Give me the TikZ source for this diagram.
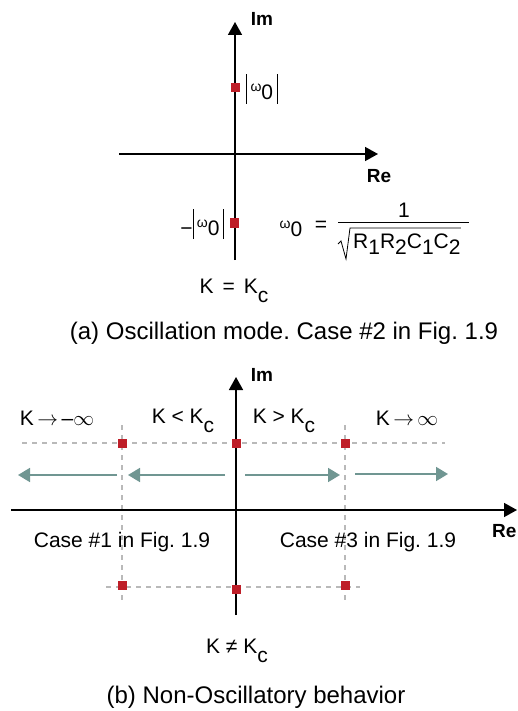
\documentclass[tikz,border=0pt]{standalone}
\usepackage{fontspec}
\setmainfont{Liberation Sans}
\usetikzlibrary{arrows.meta, positioning}
\frenchspacing
\definecolor{polered}{RGB}{190,30,40}
\definecolor{locusteal}{RGB}{112,150,146}
\definecolor{gridgray}{RGB}{185,185,185}
\tikzset{
  axisline/.style={
    -{Triangle[length=13pt,width=14pt]},
    draw=black, line width=1.6pt
  },
  polebox/.style={
    fill=polered, minimum size=9pt, inner sep=0pt
  },
  gridline/.style={
    draw=gridgray, dash pattern=on 5pt off 5pt, line width=1.1pt
  },
  locusarrow/.style={
    -{Triangle[length=12pt,width=14pt]},
    draw=locusteal, line width=1.8pt
  },
  axislabel/.style={
    font=\bfseries\fontsize{19}{22}\selectfont, inner sep=0pt
  },
  plainlabel/.style={
    font=\fontsize{21}{25}\selectfont, inner sep=0pt
  },
  captionlabel/.style={
    font=\fontsize{24}{28}\selectfont, inner sep=0pt
  },
}
\newcommand{\lowsub}[1]{\raisebox{-9pt}{#1}}
\newcommand{\digsub}[1]{\raisebox{-6pt}{#1}}
\newcommand{\omz}{\raisebox{8pt}{\fontsize{14}{14}\selectfont ω}0}
\newcommand{\absbar}{\rule[-4pt]{0.8pt}{30pt}}
\newcommand{\tends}{\,$\rightarrow$\,}

\begin{document}
\begin{tikzpicture}[x=1pt, y=-1pt]
  \useasboundingbox (0,0) rectangle (517,711);

  %% (a) Oscillation mode
  \coordinate (aW) at (119,154);
  \coordinate (aE) at (378,154);
  \coordinate (aS) at (235,260);
  \coordinate (aN) at (235,22);
  \draw[axisline] (aW) -- (aE);
  \draw[axisline] (aS) -- (aN);
  \node[axislabel] (aIm) at (262,19) {Im};
  \node[axislabel] (aRe) at (379,176) {Re};

  \node[polebox] (aP1) at (235,88) {};
  \node[polebox] (aP2) at (234,223) {};
  \node[plainlabel, anchor=west] (aL1) at (246,89) {\absbar\,\omz\,\absbar};
  \node[plainlabel, anchor=east] (aL2) at (224,224) {−\absbar\,\omz\,\absbar};

  \node[plainlabel] (aW0) at (291,229) {\omz};
  \node[plainlabel] (aEq) at (321,226) {=};
  \node[plainlabel] (aNum) at (404,210) {1};
  \coordinate (aBarL) at (338,222.5);
  \coordinate (aBarR) at (469,222.5);
  \draw[line width=1.3pt] (aBarL) -- (aBarR);
  \node[plainlabel, anchor=west] (aDen) at (353,244)
    {R\digsub{1}R\digsub{2}C\digsub{1}C\digsub{2}};
  \draw[line width=0.8pt] (338,244) -- (341,241) -- (346,259) -- (350,228)
    -- (aDen.north east |- 0,228);

  \node[plainlabel] (aK) at (234,291) {K\hspace{9pt}=\hspace{9pt}K\lowsub{c}};
  \node[captionlabel] (aCap) at (284,333) {(a) Oscillation mode. Case \#2 in Fig. 1.9};

  %% (b) Non-Oscillatory behavior
  \coordinate (bW) at (11,510);
  \coordinate (bE) at (517,510);
  \coordinate (bS) at (236,615);
  \coordinate (bN) at (236,377);

  % dashed guides
  \coordinate (gTL) at (22,443);  \coordinate (gTR) at (445,443);
  \coordinate (gBL) at (106,587); \coordinate (gBR) at (360,587);
  \coordinate (gLT) at (122,425); \coordinate (gLB) at (122,600);
  \coordinate (gRT) at (345,425); \coordinate (gRB) at (345,600);
  \draw[gridline] (gTL) -- (gTR);
  \draw[gridline] (gBL) -- (gBR);
  \draw[gridline] (gLT) -- (gLB);
  \draw[gridline] (gRT) -- (gRB);

  \draw[axisline] (bW) -- (bE);
  \draw[axisline] (bS) -- (bN);
  \node[axislabel] (bIm) at (262,375) {Im};
  \node[axislabel, anchor=west] (bRe) at (492,531) {Re};

  \node[polebox] (bP1) at (122,443) {};
  \node[polebox] (bP2) at (236,443) {};
  \node[polebox] (bP3) at (345,443) {};
  \node[polebox] (bP4) at (122,585) {};
  \node[polebox] (bP5) at (236,589) {};
  \node[polebox] (bP6) at (345,585) {};

  % root locus directions
  \coordinate (r1a) at (117,475); \coordinate (r1b) at (18,475);
  \coordinate (r2a) at (225,475); \coordinate (r2b) at (128,475);
  \coordinate (r3a) at (245,475); \coordinate (r3b) at (340,475);
  \coordinate (r4a) at (355,474); \coordinate (r4b) at (448,474);
  \draw[locusarrow] (r1a) -- (r1b);
  \draw[locusarrow] (r2a) -- (r2b);
  \draw[locusarrow] (r3a) -- (r3b);
  \draw[locusarrow] (r4a) -- (r4b);

  \node[plainlabel] (bK1) at (57,418) {K\tends–$\infty$};
  \node[plainlabel] (bK2) at (183,421) {K < K\lowsub{c}};
  \node[plainlabel] (bK3) at (284,421) {K > K\lowsub{c}};
  \node[plainlabel] (bK4) at (407,418) {K\tends$\infty$};

  \node[plainlabel] (bC1) at (122,542) {Case \#1 in Fig. 1.9};
  \node[plainlabel] (bC3) at (368,542) {Case \#3 in Fig. 1.9};

  \node[plainlabel] (bK) at (237,651) {K ≠ K\lowsub{c}};
  \node[captionlabel] (bCap) at (256,697) {(b) Non-Oscillatory behavior};
\end{tikzpicture}
\end{document}
